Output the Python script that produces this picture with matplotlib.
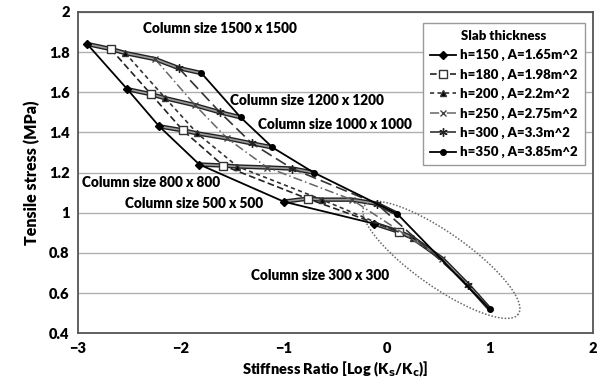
import numpy as np
from matplotlib import pyplot as plt

# column sizes (rows) and slab thickness series
columns = ['1500 x 1500', '1200 x 1200', '1000 x 1000', '800 x 800', '500 x 500', '300 x 300']
slab_labels = ['h=150 , A=1.65m^2', 'h=180 , A=1.98m^2', 'h=200 , A=2.2m^2',
               'h=250 , A=2.75m^2', 'h=300 , A=3.3m^2', 'h=350 , A=3.85m^2']

# stiffness ratio log(Ks/Kc), one list per slab thickness, ordered by column size
x_h150 = [-2.91, -2.52, -2.21, -1.82, -1.00, -0.12]
x_h180 = [-2.68, -2.29, -1.98, -1.59, -0.77, 0.12]
x_h200 = [-2.54, -2.15, -1.84, -1.45, -0.63, 0.25]
x_h250 = [-2.25, -1.86, -1.55, -1.16, -0.34, 0.54]
x_h300 = [-2.02, -1.62, -1.31, -0.92, -0.10, 0.79]
x_h350 = [-1.80, -1.42, -1.11, -0.71, 0.10, 1.00]

# tensile stress (MPa)
y_h150 = [1.84, 1.615, 1.43, 1.24, 1.055, 0.945]
y_h180 = [1.815, 1.59, 1.41, 1.235, 1.07, 0.905]
y_h200 = [1.795, 1.57, 1.395, 1.23, 1.065, 0.875]
y_h250 = [1.765, 1.535, 1.37, 1.225, 1.065, 0.77]
y_h300 = [1.72, 1.50, 1.345, 1.22, 1.045, 0.64]
y_h350 = [1.695, 1.475, 1.325, 1.20, 0.995, 0.52]

xs = [x_h150, x_h180, x_h200, x_h250, x_h300, x_h350]
ys = [y_h150, y_h180, y_h200, y_h250, y_h300, y_h350]

# label anchor (left edge, centre) for each column size text
label_x = [-2.37, -1.52, -1.25, -2.96, -2.54, -1.32]
label_y = [1.915, 1.56, 1.44, 1.15, 1.045, 0.685]

plt.rcParams['font.family'] = ['Lato', 'DejaVu Sans']
W = 'heavy'

fig = plt.figure(figsize=(6.13, 3.83), dpi=100)
ax = fig.add_axes([0.127, 0.130, 0.840, 0.839])

styles = [
    dict(color='black', ls='-', lw=1.3, marker='D', ms=4, mfc='black'),
    dict(color='#222222', ls=(0, (4, 2)), lw=1.2, marker='s', ms=5.5, mfc='white', mec='#333333'),
    dict(color='#333333', ls=(0, (2.5, 2)), lw=1.2, marker='^', ms=4.5, mfc='black'),
    dict(color='#666666', ls=(0, (6, 2, 1, 2)), lw=1.1, marker='x', ms=5, mec='#444444'),
    dict(color='#333333', ls=(0, (7, 3)), lw=1.2, marker=(6, 2, 0), ms=6, mec='#222222'),
    dict(color='black', ls='-', lw=1.3, marker='o', ms=4, mfc='black'),
]

# row lines joining same column size across slab thickness
for i in range(len(columns)):
    rx = [s[i] for s in xs]
    ry = [s[i] for s in ys]
    ax.plot(rx, ry, color='#222222', lw=3.2, zorder=2, solid_capstyle='round')
    ax.plot(rx, ry, color='#9a9a9a', lw=1.2, zorder=2.1)

handles = []
for x, y, st, lab in zip(xs, ys, styles, slab_labels):
    h, = ax.plot(x, y, label=lab, zorder=3, **st)
    handles.append(h)

for c, lx, ly in zip(columns, label_x, label_y):
    ax.text(lx, ly, 'Column size ' + c, fontsize=9.8, fontweight=W,
            ha='left', va='center', zorder=4)

# dotted ellipse around the 300 x 300 cluster (drawn in pixel-like units)
t = np.linspace(0, 2 * np.pi, 200)
a, b, ang = 94.0, 27.0, np.deg2rad(35)
u = a * np.cos(t)
v = b * np.sin(t)
px = u * np.cos(ang) - v * np.sin(ang)
py = u * np.sin(ang) + v * np.cos(ang)
ax.plot(0.53 + px / 103.0, 0.765 - py / 200.0, color='#666666', ls=(0, (1, 1.2)), lw=1.1, zorder=2)

ax.set_xlim(-3, 2)
ax.set_ylim(0.4, 2)
ax.set_xticks([-3, -2, -1, 0, 1, 2])
ax.set_yticks([0.4, 0.6, 0.8, 1, 1.2, 1.4, 1.6, 1.8, 2])
ax.set_yticklabels(['0.4', '0.6', '0.8', '1', '1.2', '1.4', '1.6', '1.8', '2'])
ax.yaxis.grid(True, color='#b0b0b0', lw=1.0)
ax.set_axisbelow(True)
ax.tick_params(length=0, labelsize=10.5, pad=6)
for lab in ax.get_xticklabels() + ax.get_yticklabels():
    lab.set_fontweight(W)
for sp in ax.spines.values():
    sp.set_color('#555555')
    sp.set_linewidth(1.3)

ax.set_xlabel('Stiffness Ratio [Log (K$_\\mathbf{s}$/K$_\\mathbf{c}$)]', fontsize=10.5, fontweight=W, labelpad=4)
ax.set_ylabel('Tensile stress (MPa)', fontsize=11.5, fontweight=W, labelpad=6)

leg = ax.legend(handles=handles, title='Slab thickness', loc='upper right',
                bbox_to_anchor=(0.997, 0.985), fontsize=9.5, title_fontsize=9.5,
                frameon=True, fancybox=False, edgecolor='#999999', framealpha=1,
                handlelength=2.0, handletextpad=0.3, borderpad=0.5, labelspacing=0.55)
leg.get_title().set_fontweight(W)
for txt in leg.get_texts():
    txt.set_fontweight(W)

fig.savefig('out.png', dpi=100)
